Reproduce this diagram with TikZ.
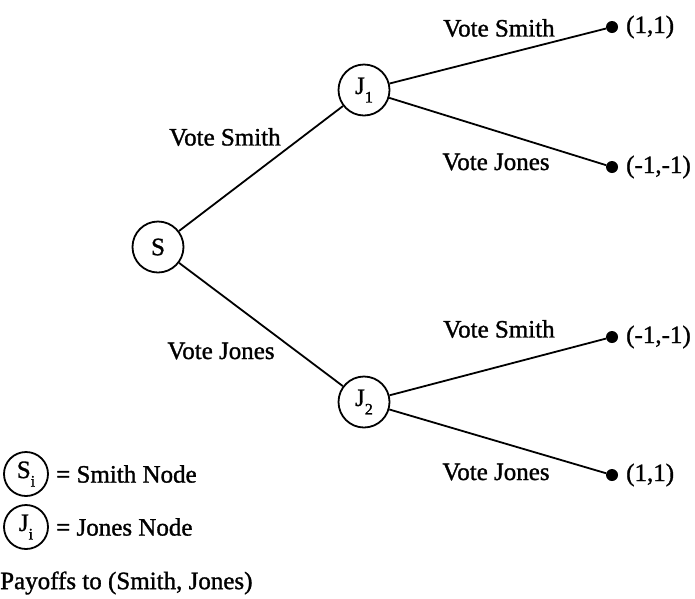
\documentclass[tikz,border=0pt]{standalone}
\usepackage{fontspec}
\setmainfont{Liberation Serif}[FakeBold=1.2]
\newcommand{\lowsub}[1]{\raisebox{-0.34em}{\fontsize{16}{16}\selectfont #1}}
\begin{document}
\begin{tikzpicture}[x=1pt,y=-1pt,
  font=\fontsize{25}{30}\selectfont,
  gnode/.style={draw, circle, line width=1.8pt, minimum size=51pt, inner sep=0pt},
  keynode/.style={draw, circle, line width=1.8pt, minimum size=44pt, inner sep=0pt},
  leaf/.style={fill, circle, minimum size=12pt, inner sep=0pt},
  branch/.style={line width=1.8pt},
  lab/.style={inner sep=0pt}]
\useasboundingbox (0,0) rectangle (695,598);

% decision nodes
\node[gnode] (S)  at (158,247) {S};
\node[gnode] (J1) at (364,90)  {J\lowsub{1}};
\node[gnode] (J2) at (364,402) {J\lowsub{2}};

% terminal nodes
\node[leaf] (t1) at (612,27)  {};
\node[leaf] (t2) at (612,167) {};
\node[leaf] (t3) at (612,337) {};
\node[leaf] (t4) at (612,475) {};

% branches
\draw[branch] (S) -- (J1);
\draw[branch] (S) -- (J2);
\draw[branch] (J1) -- (t1);
\draw[branch] (J1) -- (t2);
\draw[branch] (J2) -- (t3);
\draw[branch] (J2) -- (t4);

% branch labels
\node[lab] (l1) at (225,137) {Vote Smith};
\node[lab] (l2) at (221,351) {Vote Jones};
\node[lab] (l3) at (499,28)  {Vote Smith};
\node[lab] (l4) at (496,162) {Vote Jones};
\node[lab] (l5) at (499,329) {Vote Smith};
\node[lab] (l6) at (496,472) {Vote Jones};

% payoffs
\node[lab, anchor=west] (p1) at (626,27)  {(1,1)};
\node[lab, anchor=west] (p2) at (626,167) {(-1,-1)};
\node[lab, anchor=west] (p3) at (626,337) {(-1,-1)};
\node[lab, anchor=west] (p4) at (626,475) {(1,1)};

% key
\node[keynode] (ks) at (26,474) {S\lowsub{i}};
\node[lab, anchor=west] (kst) at (56,474) {= Smith Node};
\node[keynode] (kj) at (26,527) {J\lowsub{i}};
\node[lab, anchor=west] (kjt) at (56,527) {= Jones Node};
\node[lab, anchor=west] (pay) at (0,583) {Payoffs to (Smith, Jones)};
\end{tikzpicture}
\end{document}
